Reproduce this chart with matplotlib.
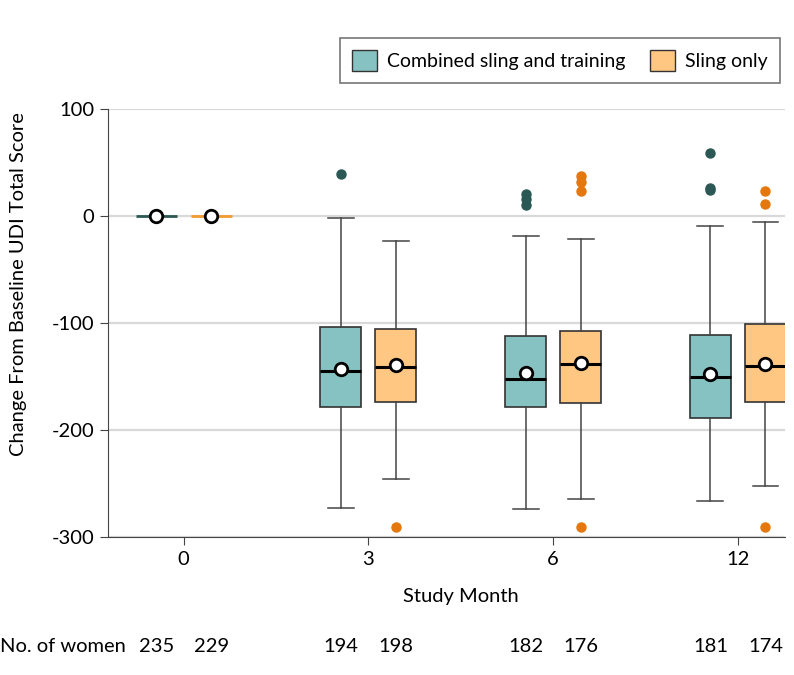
import matplotlib.pyplot as plt
from matplotlib.patches import Patch
from matplotlib.transforms import blended_transform_factory

plt.rcParams['font.family'] = ['Lato', 'DejaVu Sans']
plt.rcParams['axes.unicode_minus'] = False

months = ['0', '3', '6', '12']
groups = ['Combined sling and training', 'Sling only']
n_women = [[235, 229], [194, 198], [182, 176], [181, 174]]

# box stats for months 3, 6, 12 (month 0 is all zeros)
combined_whislo = [-273, -274, -266]
combined_q1 = [-178, -178, -189]
combined_med = [-145, -152, -150]
combined_q3 = [-104, -112, -111]
combined_whishi = [-2, -19, -9]
combined_mean = [-143, -147, -148]
combined_fliers = [[39], [21, 16, 10], [59, 26, 24]]

sling_whislo = [-246, -264, -252]
sling_q1 = [-174, -175, -174]
sling_med = [-141, -138, -140]
sling_q3 = [-106, -107, -101]
sling_whishi = [-23, -21, -6]
sling_mean = [-139, -137, -138]
sling_fliers = [[-291], [37, 32, 23, -291], [23, 11, -291]]

teal_fill = '#86c2c1'
teal_dark = '#2b5855'
orange_fill = '#ffc781'
orange_dark = '#e4780e'
orange_line = '#f29b2e'

fs = 14.5

fig = plt.figure(figsize=(7.94, 6.75), dpi=100)
ax = fig.add_axes([0.136, 0.2044, 0.8527, 0.634])

off = 0.149
width = 0.222


def make_stats(lo, q1, med, q3, hi, mean, fl):
    return [dict(whislo=a, q1=b, med=c, q3=d, whishi=e, mean=f, fliers=g)
            for a, b, c, d, e, f, g in zip(lo, q1, med, q3, hi, mean, fl)]


for stats, pos, fill, dark in [
        (make_stats(combined_whislo, combined_q1, combined_med, combined_q3,
                    combined_whishi, combined_mean, combined_fliers),
         [1 - off, 2 - off, 3 - off], teal_fill, teal_dark),
        (make_stats(sling_whislo, sling_q1, sling_med, sling_q3,
                    sling_whishi, sling_mean, sling_fliers),
         [1 + off, 2 + off, 3 + off], orange_fill, orange_dark)]:
    ax.bxp(stats, positions=pos, widths=width, patch_artist=True,
           showmeans=True, manage_ticks=False,
           boxprops=dict(facecolor=fill, edgecolor='#333333', linewidth=1.2),
           medianprops=dict(color='black', linewidth=2.2),
           whiskerprops=dict(color='#444444', linewidth=1.1),
           capprops=dict(color='#444444', linewidth=1.1),
           capwidths=0.14,
           flierprops=dict(marker='o', markerfacecolor=dark, markeredgecolor=dark,
                           markersize=6.5),
           meanprops=dict(marker='o', markerfacecolor='white', markeredgecolor='black',
                          markeredgewidth=2, markersize=9), zorder=3)

# month 0: no change from baseline
ax.hlines(0, -off - width / 2, -off + width / 2, color=teal_dark, linewidth=2, zorder=3)
ax.hlines(0, off - width / 2, off + width / 2, color=orange_line, linewidth=2, zorder=3)
ax.plot([-off, off], [0, 0], 'o', markerfacecolor='white', markeredgecolor='black',
        markeredgewidth=2, markersize=9, zorder=4)

ax.set_xlim(-0.41, 3.255)
ax.set_ylim(-300, 100)
ax.set_yticks([100, 0, -100, -200, -300])
ax.set_xticks(range(4))
ax.set_xticklabels(months)
ax.yaxis.grid(True, color='#d9d9d9', linewidth=1.6)
ax.set_axisbelow(True)
for s in ['top', 'right']:
    ax.spines[s].set_visible(False)
for s in ['left', 'bottom']:
    ax.spines[s].set_color('#444444')
ax.tick_params(labelsize=fs, length=6, color='#444444', pad=4)

ax.set_xlabel('Study Month', fontsize=fs)
ax.xaxis.set_label_coords(0.521, -0.118)
ax.set_ylabel('Change From Baseline UDI Total Score', fontsize=fs)
ax.yaxis.set_label_coords(-0.12, 0.59)

trans = blended_transform_factory(ax.transData, fig.transFigure)
for i, pair in enumerate(n_women):
    ax.text(i - off, 1 - 647 / 675, str(pair[0]), transform=trans, ha='center',
            va='center', fontsize=fs)
    ax.text(i + off, 1 - 647 / 675, str(pair[1]), transform=trans, ha='center',
            va='center', fontsize=fs)
fig.text(0.0, 1 - 647 / 675, 'No. of women', ha='left', va='center', fontsize=fs)

handles = [Patch(facecolor=teal_fill, edgecolor='#333333'),
           Patch(facecolor=orange_fill, edgecolor='#333333')]
leg = fig.legend(handles, groups, loc='upper right', bbox_to_anchor=(0.994, 0.958),
                 ncol=2, fontsize=14, frameon=True, fancybox=False,
                 handlelength=1.3, handleheight=1.3, columnspacing=1.3,
                 borderpad=0.6, handletextpad=0.5)
leg.get_frame().set_edgecolor('#555555')
leg.get_frame().set_linewidth(1.2)

fig.savefig('out.png', dpi=100)
